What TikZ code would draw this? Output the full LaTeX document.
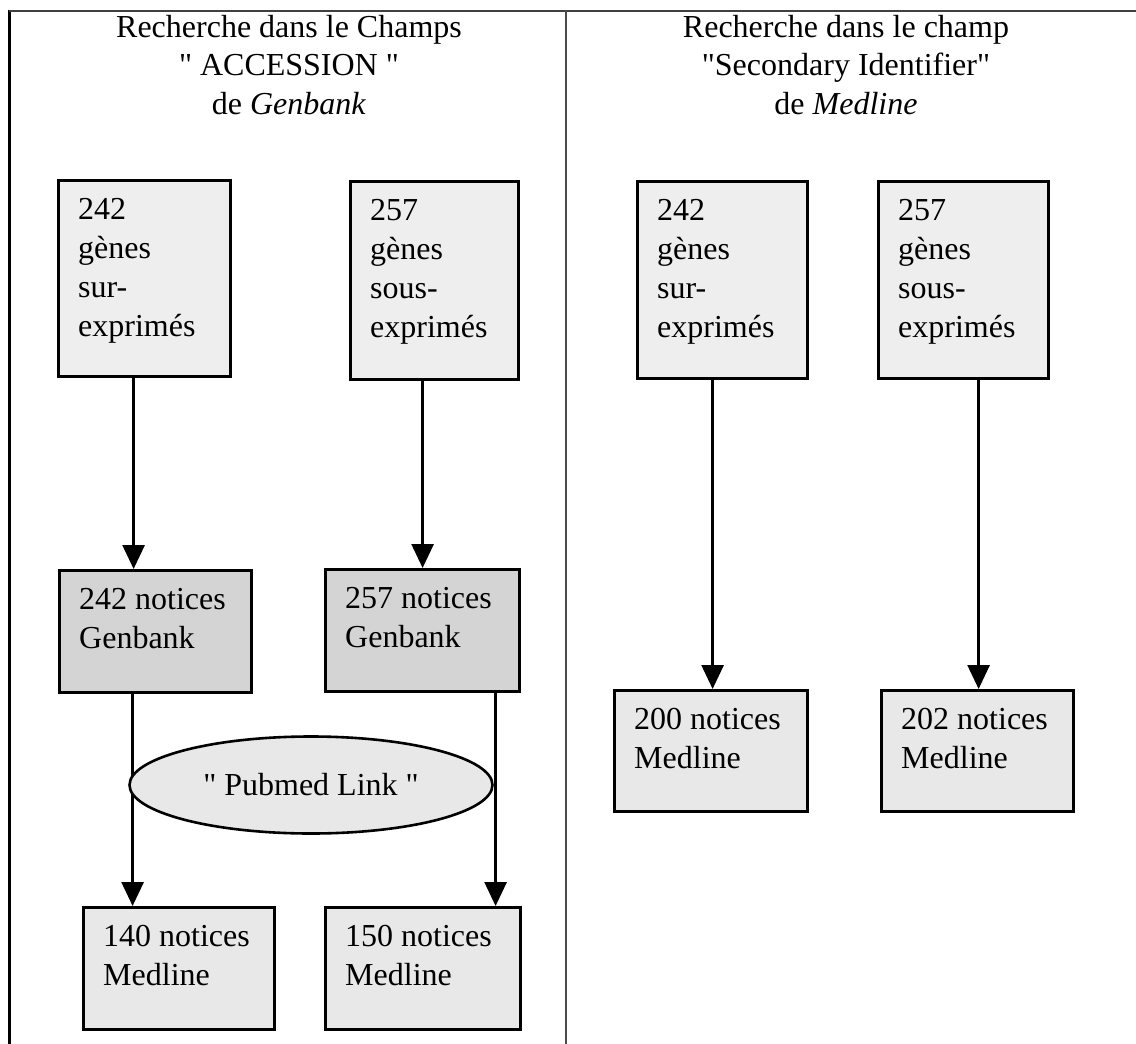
\documentclass[tikz,border=0pt]{standalone}
\usepackage{fontspec}
\setmainfont{Liberation Serif}[Ligatures=TeXOff]
\usetikzlibrary{arrows.meta,shapes.geometric,calc}
\definecolor{lightfill}{HTML}{EEEEEE}
\definecolor{darkfill}{HTML}{D4D4D4}
\definecolor{medfill}{HTML}{E8E8E8}
\begin{document}
\begin{tikzpicture}[x=1pt,y=-1pt,
  every node/.style={font=\fontsize{32}{38.5}\selectfont},
  box/.style={draw, line width=3.2pt, rectangle, inner sep=0pt, anchor=north west},
  genebox/.style={box, fill=lightfill},
  gbbox/.style={box, fill=darkfill},
  mlbox/.style={box, fill=medfill},
  tl/.style={anchor=north west, align=left, inner sep=0pt, xshift=21pt, yshift=-19pt,
             font=\fontsize{32}{39.2}\selectfont},
  title/.style={anchor=north, align=center, inner sep=0pt},
  arr/.style={line width=2.8pt, -{Triangle[width=22pt,length=24pt]}},
  frame/.style={line width=2pt}]
\useasboundingbox (0,0) rectangle (1136,1044);

% frame
\draw[frame, line width=2.7pt] (9.5,9.5) -- (9.5,1044);
\draw[frame, black!75] (8.5,10.5) -- (1136,10.5);
\draw[frame, black!70] (566,10) -- (566,1044);

% titles
\node[title] (T1) at (289,15) {Recherche dans le Champs\\"\ ACCESSION\ "\\de \textit{Genbank}};
\node[title] (T2) at (846,15) {Recherche dans le champ\\"Secondary Identifier"\\de \textit{Medline}};

% left column boxes
\node[genebox, minimum width=172pt, minimum height=196pt,
      label={[tl]north west:{242\\gènes\\sur-\\exprimés}}] (L1) at (57,179) {};
\node[genebox, minimum width=168pt, minimum height=198pt,
      label={[tl]north west:{257\\gènes\\sous-\\exprimés}}] (L2) at (349,180) {};
\node[gbbox, minimum width=192pt, minimum height=122pt,
      label={[tl]north west:{242 notices\\Genbank}}] (G1) at (58,569) {};
\node[gbbox, minimum width=194pt, minimum height=122pt,
      label={[tl]north west:{257 notices\\Genbank}}] (G2) at (324,568) {};
\node[mlbox, minimum width=191pt, minimum height=122pt,
      label={[tl]north west:{140 notices\\Medline}}] (M1) at (82,906) {};
\node[mlbox, minimum width=195pt, minimum height=122pt,
      label={[tl]north west:{150 notices\\Medline}}] (M2) at (324,906) {};

% right column boxes
\node[genebox, minimum width=170pt, minimum height=197pt,
      label={[tl]north west:{242\\gènes\\sur-\\exprimés}}] (R1) at (636,180) {};
\node[genebox, minimum width=170pt, minimum height=197pt,
      label={[tl]north west:{257\\gènes\\sous-\\exprimés}}] (R2) at (877,180) {};
\node[mlbox, minimum width=193pt, minimum height=121pt,
      label={[tl]north west:{200 notices\\Medline}}] (M3) at (613,689) {};
\node[mlbox, minimum width=192pt, minimum height=121pt,
      label={[tl]north west:{202 notices\\Medline}}] (M4) at (880,689) {};

% connectors
\draw[arr] ([xshift=-11pt]L1.south) -- ([xshift=-11pt]L1.south |- G1.north);
\draw[arr] ([xshift=-12pt]L2.south) -- ([xshift=-12pt]L2.south |- G2.north);
\draw[arr] ([xshift=-23pt]G1.south) -- ([xshift=-23pt]G1.south |- M1.north);
\draw[arr] ([xshift=73pt]G2.south) -- ([xshift=73pt]G2.south |- M2.north);
\draw[arr] ([xshift=-10pt]R1.south) -- ([xshift=-10pt]R1.south |- M3.north);
\draw[arr] ([xshift=15pt]R2.south) -- ([xshift=15pt]R2.south |- M4.north);

% Pubmed link ellipse
\node[ellipse, draw, line width=2.6pt, fill=medfill, minimum width=363pt,
      minimum height=97pt, inner sep=0pt] (PL) at (311,785) {"\ Pubmed Link\ "};
\end{tikzpicture}
\end{document}
